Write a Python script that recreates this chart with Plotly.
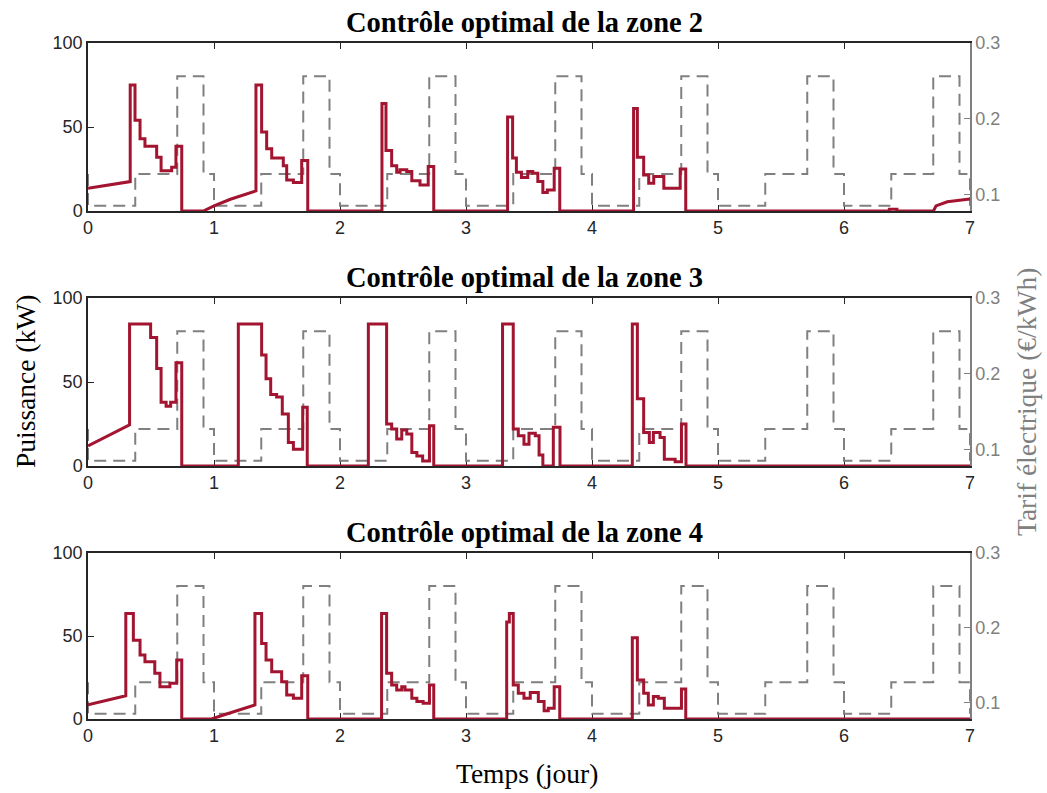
import plotly.graph_objects as go
from plotly.subplots import make_subplots

# ---------------- data ----------------
days = list(range(8))
tariff_hours = [0, 9, 17, 22]
tariff_levels = [0.085, 0.127, 0.256, 0.127]

zone_titles = ["Contrôle optimal de la zone 2",
               "Contrôle optimal de la zone 3",
               "Contrôle optimal de la zone 4"]

# step breakpoints (time in days, power in kW held until next time)
zone2_t = [0, 0.335, 0.335, 0.373, 0.413, 0.452, 0.545, 0.58, 0.664, 0.698, 0.744,
           0.915, 1.0, 1.13, 1.333, 1.333, 1.378, 1.418, 1.458, 1.55, 1.577, 1.63, 1.696, 1.744,
           2.333, 2.365, 2.41, 2.45, 2.476, 2.53, 2.57, 2.635, 2.70, 2.744,
           3.33, 3.37, 3.40, 3.44, 3.49, 3.53, 3.57, 3.61, 3.645, 3.70, 3.744,
           4.33, 4.36, 4.41, 4.45, 4.49, 4.57, 4.70, 4.744,
           6.36, 6.42, 6.71, 6.73, 6.82, 7.0]
zone2_p = [13.5, 17.5, 75, 54, 43, 38.5, 32, 24, 26, 38.5, 0,
           0, 3, 7, 12, 75, 47, 37, 31.5, 27, 18.5, 17, 30, 0,
           64, 36, 27, 23, 24.5, 23.5, 18, 15.5, 26.5, 0,
           56, 31.5, 23, 20, 23.5, 22.5, 17.5, 11, 12.5, 25.5, 0,
           61, 32, 21.5, 16.5, 20.5, 13.5, 25, 0,
           1.0, 0, 0, 3, 5.5, 7.2]
zone2_ramps = [0, 0.915, 1.0, 1.13, 6.71, 6.73, 6.82]

zone3_t = [0, 0.33, 0.33, 0.497, 0.545, 0.58, 0.62, 0.656, 0.698, 0.744,
           1.193, 1.378, 1.413, 1.45, 1.497, 1.542, 1.59, 1.63, 1.704, 1.74,
           2.225, 2.37, 2.41, 2.45, 2.49, 2.53, 2.57, 2.61, 2.656, 2.71, 2.744,
           3.29, 3.375, 3.415, 3.46, 3.50, 3.55, 3.58, 3.61, 3.693, 3.746,
           4.32, 4.36, 4.41, 4.455, 4.487, 4.54, 4.574, 4.66, 4.71, 4.746, 7.0]
zone3_p = [12, 24.5, 84.5, 76.5, 58, 38, 35.5, 38, 61.5, 0,
           84.5, 66, 52, 42.5, 41, 31, 14, 10, 35, 0,
           84.5, 25, 22, 16, 21.5, 19, 8, 6, 3, 24, 0,
           84.5, 22, 18, 13, 19.5, 18, 6.5, 0, 23, 0,
           84.5, 40, 20, 14, 20, 17, 4, 2.5, 25, 0, 0]
zone3_ramps = [0]

zone4_t = [0, 0.30, 0.30, 0.36, 0.413, 0.452, 0.53, 0.571, 0.65, 0.704, 0.744,
           0.98, 1.10, 1.32, 1.325, 1.378, 1.413, 1.458, 1.537, 1.577, 1.63, 1.696, 1.744,
           2.33, 2.37, 2.41, 2.45, 2.49, 2.516, 2.57, 2.61, 2.66, 2.71, 2.744,
           3.323, 3.344, 3.375, 3.415, 3.46, 3.51, 3.574, 3.62, 3.653, 3.70, 3.744,
           4.32, 4.36, 4.41, 4.447, 4.487, 4.526, 4.574, 4.71, 4.744, 7.0]
zone4_p = [8.5, 14, 63.5, 47.5, 38.5, 34.5, 27.5, 19.5, 21.5, 35.5, 0,
           0, 3, 8.5, 63.5, 45.5, 35.5, 28.5, 22.5, 14.5, 12.5, 26, 0,
           63.5, 27.5, 20.5, 17.5, 19.5, 17.5, 12.5, 10.5, 9.5, 20.5, 0,
           58.5, 63.5, 20.5, 15.5, 12.5, 16, 10.5, 5, 6.5, 19.5, 0,
           49, 23.5, 15.5, 8.5, 13.5, 12.5, 6.5, 18, 0, 0]
zone4_ramps = [0, 0.98, 1.10]

zones = [(zone2_t, zone2_p, zone2_ramps),
         (zone3_t, zone3_p, zone3_ramps),
         (zone4_t, zone4_p, zone4_ramps)]

x_ticks = [0, 1, 2, 3, 4, 5, 6, 7]
left_ticks = [0, 50, 100]
right_ticks = [0.1, 0.2, 0.3]


def build_path(times, vals, ramps):
    xs, ys = [], []
    for i, (t, v) in enumerate(zip(times, vals)):
        xs.append(t)
        ys.append(v)
        if i + 1 < len(times) and t not in ramps:
            xs.append(times[i + 1])
            ys.append(v)
    return xs, ys


tar_x = [0.0]
tar_y = [tariff_levels[-1]]
for d in days[:-1]:
    for h, lv in zip(tariff_hours, tariff_levels):
        tar_x.append(d + h / 24)
        tar_y.append(lv)
tar_x += [7.0, 7.0]
tar_y += [tariff_levels[-1], tariff_levels[0]]

# ---------------- figure ----------------
RED = "#A2142F"
GREY = "#808080"
DARK = "#262626"
SERIF = "Liberation Serif, Times New Roman, serif"
SANS = "Liberation Sans, Arial, sans-serif"

fig = make_subplots(rows=3, cols=1, specs=[[{"secondary_y": True}]] * 3)

for r, (t, p, rp) in enumerate(zones, start=1):
    fig.add_trace(go.Scatter(x=tar_x, y=tar_y, mode="lines", line_shape="hv",
                             line=dict(color=GREY, width=2, dash="12px,7px"),
                             showlegend=False, hoverinfo="skip"),
                  row=r, col=1, secondary_y=False)
    px, py = build_path(t, p, rp)
    fig.add_trace(go.Scatter(x=px, y=py, mode="lines",
                             line=dict(color=RED, width=3),
                             showlegend=False),
                  row=r, col=1, secondary_y=True)

W, H = 1047, 793
L, R, T, B = 88, 77, 43, 74
ph = H - T - B
pw = W - L - R


def py2paper(py):
    return (H - B - py) / ph


def px2paper(px):
    return (px - L) / pw


domains = [(211, 43), (466, 298), (719, 553)]

for r in range(3):
    bot, top = domains[r]
    dom = [max(0, py2paper(bot)), min(1, py2paper(top))]
    prim = "yaxis" if r == 0 else f"yaxis{2 * r + 1}"
    sec = f"yaxis{2 * r + 2}"
    xa = "xaxis" if r == 0 else f"xaxis{r + 1}"
    fig.layout[prim].update(domain=dom, side="right", range=[0.078, 0.3],
                            tickvals=right_ticks, ticktext=["0.1", "0.2", "0.3"],
                            ticks="inside", ticklen=6, tickcolor=GREY,
                            showline=True, linecolor=GREY, linewidth=1.5,
                            showgrid=False, zeroline=False,
                            tickfont=dict(family=SANS, size=18, color=GREY),
                            automargin=False)
    fig.layout[sec].update(side="left", range=[0, 100], tickvals=left_ticks,
                           ticks="inside", ticklen=6, tickcolor=DARK,
                           showline=True, linecolor=DARK, linewidth=1.5,
                           showgrid=False, zeroline=False,
                           tickfont=dict(family=SANS, size=18, color=DARK),
                           automargin=False)
    fig.layout[xa].update(domain=[0, 1], range=[0, 7], tickvals=x_ticks,
                          ticks="inside", ticklen=6, tickcolor=DARK,
                          showline=True, linecolor=DARK, linewidth=1.5,
                          mirror="ticks", showgrid=False, zeroline=False,
                          tickfont=dict(family=SANS, size=18, color=DARK),
                          layer="below traces", automargin=False)
    title_py = [22, 277, 532][r]
    fig.add_annotation(text=f"<b>{zone_titles[r]}</b>", xref="paper", yref="paper",
                       x=px2paper(524), y=py2paper(title_py), showarrow=False,
                       xanchor="center", yanchor="middle",
                       font=dict(family=SERIF, size=28.5, color="black"))

fig.add_annotation(text="Puissance (kW)", xref="paper", yref="paper",
                   x=px2paper(25), y=py2paper(382), textangle=-90, showarrow=False,
                   xanchor="center", yanchor="middle",
                   font=dict(family=SERIF, size=27.5, color="black"))
fig.add_annotation(text="Tarif électrique (€/kWh)", xref="paper", yref="paper",
                   x=px2paper(1026), y=py2paper(402), textangle=-90, showarrow=False,
                   xanchor="center", yanchor="middle",
                   font=dict(family=SERIF, size=27.5, color=GREY))
fig.add_annotation(text="Temps (jour)", xref="paper", yref="paper",
                   x=px2paper(527), y=py2paper(773), showarrow=False,
                   xanchor="center", yanchor="middle",
                   font=dict(family=SERIF, size=27.5, color="black"))

fig.update_layout(width=W, height=H, margin=dict(l=L, r=R, t=T, b=B, autoexpand=False),
                  paper_bgcolor="white", plot_bgcolor="white", showlegend=False)

fig.write_html("out.html", config={"displayModeBar": False},
               post_script="document.body.style.margin='0px';document.body.style.overflow='hidden';")
